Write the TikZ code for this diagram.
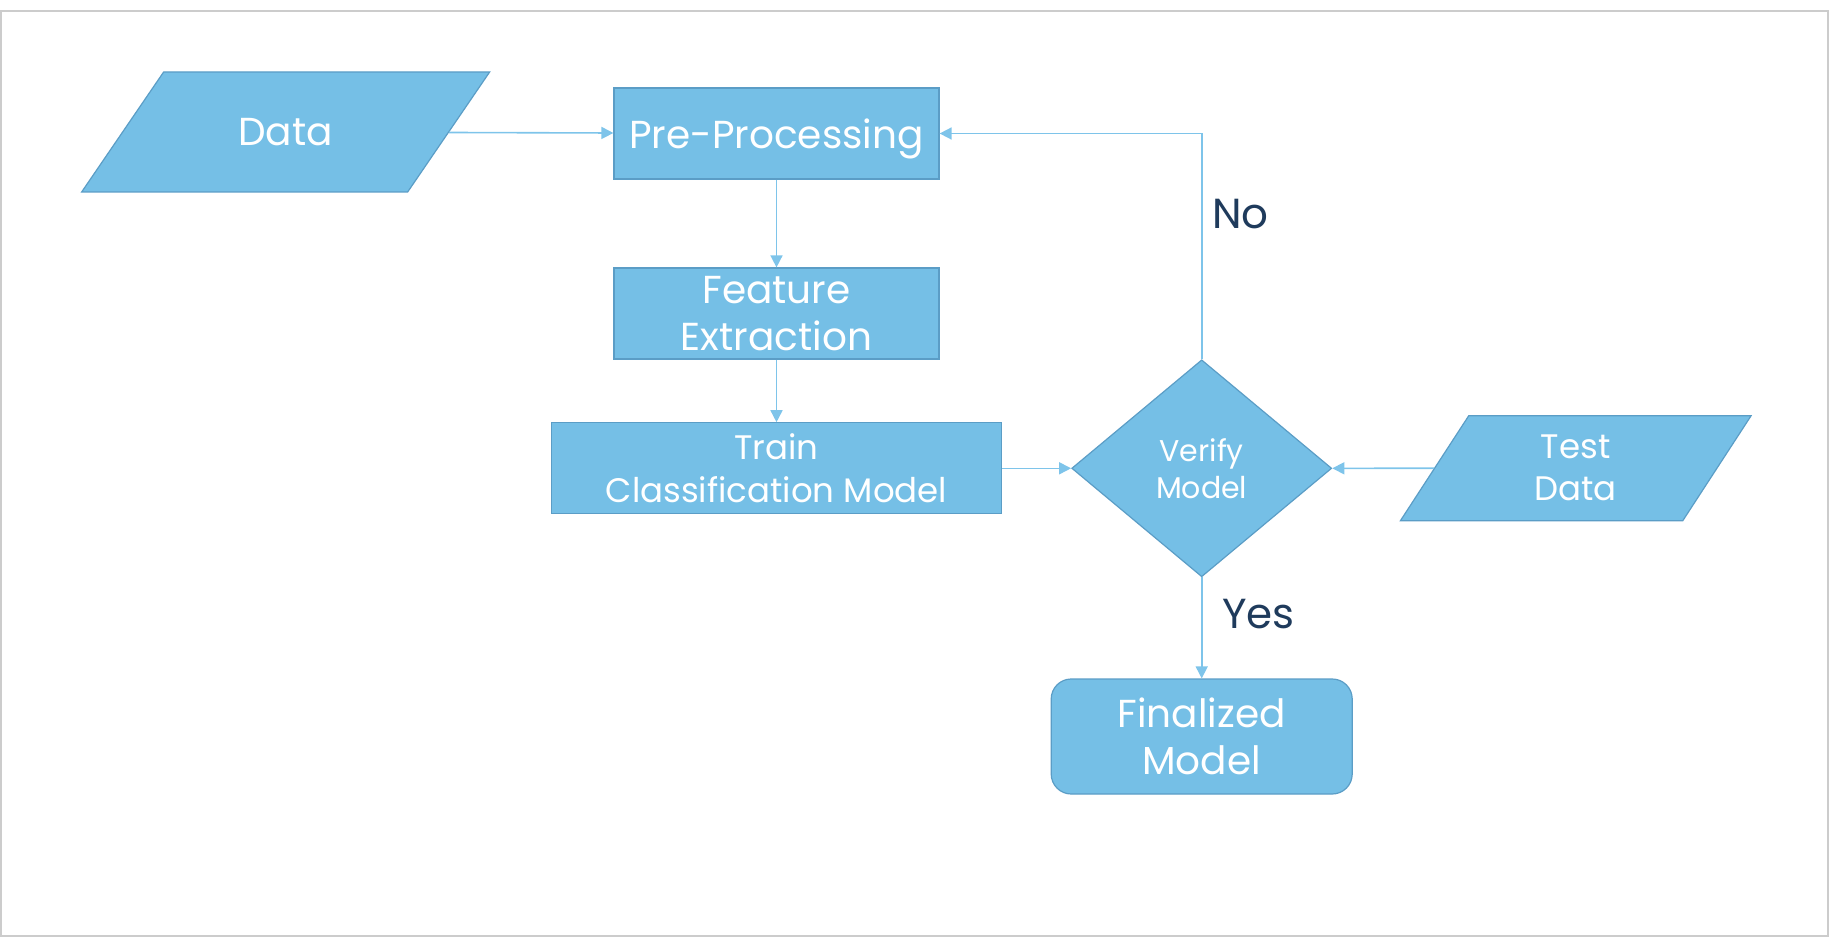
\documentclass[tikz,border=0pt]{standalone}
\usepackage{fontspec}
\setmainfont{Poppins}
\usetikzlibrary{positioning, arrows.meta, shapes.geometric, calc}

\definecolor{boxfill}{HTML}{75BFE6}
\definecolor{boxline}{HTML}{5B9DC6}
\definecolor{flowline}{HTML}{7EC4EA}
\definecolor{labeltext}{HTML}{1F3B5C}
\definecolor{framegray}{HTML}{CCCCCC}

\begin{document}
\begin{tikzpicture}[
    x=0.5pt, y=-0.5pt,
    process/.style={rectangle, draw=boxline, fill=boxfill, line width=0.6pt, text=white, align=center, inner sep=1pt, font=\fontsize{19.5}{23.5}\selectfont, minimum width=162.5pt, minimum height=45.5pt},
    io/.style={trapezium, draw=boxline, fill=boxfill, line width=0.6pt, text=white, align=center, inner xsep=0pt},
    decision/.style={diamond, aspect=1.2, draw=boxline, fill=boxfill, line width=0.6pt, text=white, align=center, inner sep=1pt, font=\fontsize{15}{18.5}\selectfont, minimum width=130pt, minimum height=108.5pt},
    terminal/.style={process, rounded corners=10pt, minimum width=150.5pt, minimum height=57.5pt},
    arrow/.style={-{Triangle[length=6pt,width=6pt]}, draw=flowline, line width=0.8pt},
    answer/.style={font=\fontsize{21}{25}\selectfont, text=labeltext, inner sep=0pt}
]

% Page and frame
\useasboundingbox (0,0) rectangle (1834,940);
\draw[framegray, line width=1pt] (1,11) rectangle (1828,936);

% Main chain
\node[process, text depth=0pt] (pre) at (776.5,133.5) {Pre-Processing};
\node[process, below=43.9pt of pre] (feature) {Feature\\Extraction};
\node[process, below=31.3pt of feature, minimum width=225pt, font=\fontsize{17}{21.5}\selectfont] (train) {Train\\Classification Model};

% Inputs
\node[io, left=82pt of pre, yshift=0.75pt, trapezium left angle=55.65, trapezium right angle=124.35,
      text width=122pt, text height=14pt, text depth=0pt, inner ysep=23pt, font=\fontsize{19.5}{23.5}\selectfont] (data) {Data};

% Check and result
\node[decision, right=34.5pt of train] (verify) {Verify\\Model};
\node[io, right=50.75pt of verify, trapezium left angle=56.94, trapezium right angle=123.06,
      text width=107pt, inner ysep=9.75pt, font=\fontsize{17}{21}\selectfont] (test) {Test\\Data};
\node[terminal, below=50.5pt of verify] (final) {Finalized\\Model};

% Connectors
\draw[arrow] (data) -- (pre);
\draw[arrow] (pre) -- (feature);
\draw[arrow] (feature) -- (train);
\draw[arrow] (train) -- (verify);
\draw[arrow] (test) -- (verify);
\draw[arrow] (verify) -- (final);
\draw[arrow] (verify.north) |- (pre.east);

% Answers
\node[answer, anchor=west] (no) at ($(verify.north)+(10,-145)$) {No};
\node[answer, anchor=west] (yes) at ($(verify.south)+(20,37)$) {Yes};

\end{tikzpicture}
\end{document}
